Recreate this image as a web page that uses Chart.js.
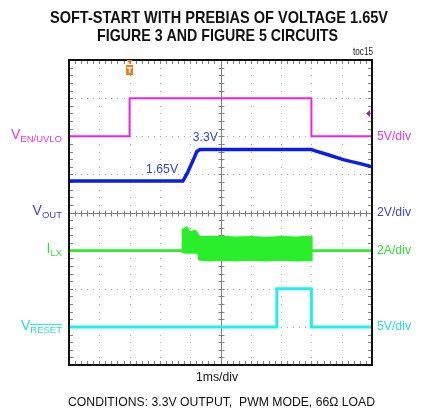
<!DOCTYPE html>
<html><head><meta charset="utf-8">
<script src="https://cdn.jsdelivr.net/npm/chart.js@4"></script>
<style>html,body{margin:0;padding:0;background:#fff;}#wrap{width:422px;height:412px;position:relative}</style>
</head><body><div id="wrap"><canvas id="c" width="422" height="412"></canvas></div>
<script>
// ---- data (time in ms, 1 ms/div) ----
const enTime   = [0, 2, 2, 8, 8, 10];
const enVolts  = [0, 0, 5, 5, 0, 0];
const voutTime  = [0, 3.76, 3.9, 4.1, 4.22, 4.32, 8, 8.1, 8.55, 9.08, 9.64, 10];
const voutVolts = [1.65, 1.65, 2.05, 2.75, 3.2, 3.3, 3.3, 3.25, 3.03, 2.76, 2.55, 2.4];
const ilxTime  = [0, 3.76, 3.76, 3.88, 3.99, 4.16, 4.27, 4.3, 4.6, 5.0, 5.5, 6.0, 6.5, 7.0, 7.5, 7.9, 8.0, 8.0, 10];
const ilxUpper = [0, 0, 1.1, 1.2, 0.95, 1.03, 0.78, 0.72, 0.7, 0.72, 0.68, 0.7, 0.66, 0.7, 0.68, 0.72, 0.7, 0, 0];
const ilxLower = [0, 0, -0.08, -0.1, -0.1, -0.08, -0.1, -0.46, -0.5, -0.46, -0.5, -0.47, -0.5, -0.46, -0.5, -0.48, -0.5, 0, 0];
const resetTime  = [0, 6.86, 6.86, 8, 8, 10];
const resetVolts = [0, 0, 5, 5, 0, 0];
const annot1 = "1.65V", annot2 = "3.3V";
// channel settings: ground position (div from bottom) and units per division
const chEN    = {ground: 6, perDiv: 5, color: '#ee22ee'};
const chVOUT  = {ground: 4, perDiv: 2, color: '#0a1ee6'};
const chILX   = {ground: 3, perDiv: 2, color: '#2aee2a'};
const chRESET = {ground: 1, perDiv: 5, color: '#22eeee'};

function pts(ch, t, v){ return t.map((x,i)=>({x:x, y: ch.ground + v[i]/ch.perDiv})); }

const gridPlugin = {
  id:'scopeGrid',
  beforeDatasetsDraw(chart){
    const {ctx, chartArea:a, scales:{x,y}} = chart;
    ctx.save();
    ctx.fillStyle = '#a8a8a8';
    for(let i=1;i<10;i++){ if(i===5) continue;
      const px = Math.round(x.getPixelForValue(i));
      for(let j=0;j<=40;j++){ const py = y.getPixelForValue(j*0.2); ctx.fillRect(px, Math.round(py), 1, 1); }
    }
    for(let j=1;j<8;j++){ if(j===4) continue;
      const py = Math.round(y.getPixelForValue(j));
      for(let i=0;i<=50;i++){ const px = x.getPixelForValue(i*0.2); ctx.fillRect(Math.round(px), py, 1, 1); }
    }
    ctx.strokeStyle = '#808080'; ctx.lineWidth = 1;
    const cx = Math.round(x.getPixelForValue(5))+0.5, cy = Math.round(y.getPixelForValue(4))+0.5;
    ctx.beginPath(); ctx.moveTo(a.left, cy); ctx.lineTo(a.right, cy); ctx.moveTo(cx, a.top); ctx.lineTo(cx, a.bottom); ctx.stroke();
    ctx.beginPath();
    for(let i=1;i<50;i++){ const px = Math.round(x.getPixelForValue(i*0.2))+0.5;
      ctx.moveTo(px, cy-3); ctx.lineTo(px, cy+3);
      ctx.moveTo(px, a.top); ctx.lineTo(px, a.top+4);
      ctx.moveTo(px, a.bottom); ctx.lineTo(px, a.bottom-4); }
    for(let j=1;j<40;j++){ const py = Math.round(y.getPixelForValue(j*0.2))+0.5;
      ctx.moveTo(cx-3, py); ctx.lineTo(cx+3, py);
      ctx.moveTo(a.left, py); ctx.lineTo(a.left+4, py);
      ctx.moveTo(a.right, py); ctx.lineTo(a.right-4, py); }
    ctx.stroke();
    ctx.restore();
  },
  afterDraw(chart){
    const {ctx, chartArea:a, scales:{x,y}} = chart;
    ctx.save();
    ctx.strokeStyle = '#111'; ctx.lineWidth = 2;
    ctx.strokeRect(a.left, a.top, a.right-a.left, a.bottom-a.top);
    const tx = x.getPixelForValue(2);
    ctx.fillStyle = '#f07a1a';
    ctx.beginPath(); ctx.moveTo(tx-3, a.top); ctx.lineTo(tx+3, a.top); ctx.lineTo(tx, a.top+4); ctx.closePath(); ctx.fill();
    ctx.fillRect(tx-3.5, a.top+5, 7, 10);
    ctx.fillStyle='#fff'; ctx.fillRect(tx-2.5, a.top+7, 5, 1.5); ctx.fillRect(tx-0.75, a.top+7, 1.5, 6);
    const ty = y.getPixelForValue(chEN.ground + 3/chEN.perDiv);
    ctx.fillStyle = '#a020a0';
    ctx.beginPath(); ctx.moveTo(a.right-2, ty-3.5); ctx.lineTo(a.right-2, ty+3.5); ctx.lineTo(a.right-6, ty); ctx.closePath(); ctx.fill();
    ctx.restore();

    const F = '"Liberation Sans", Arial, sans-serif';
    function txt(s, px, py, font, color, align, maxW){
      ctx.save(); ctx.font = font; ctx.fillStyle = color; ctx.textBaseline = 'middle';
      const w = ctx.measureText(s).width; const sx = (maxW && w > maxW) ? maxW / w : 1;
      ctx.translate(px, py); ctx.scale(sx, 1); ctx.textAlign = align; ctx.fillText(s, 0, 0); ctx.restore();
      return w*sx;
    }
    function subLabel(main, sub, right, py, color, overline){
      ctx.save(); ctx.font = '9.5px '+F; const sw = ctx.measureText(sub).width; ctx.restore();
      txt(sub, right - sw, py+4, '9.5px '+F, color, 'left');
      txt(main, right - sw, py, '14px '+F, color, 'right');
      if(overline){ ctx.save(); ctx.strokeStyle=color; ctx.lineWidth=1; ctx.beginPath(); ctx.moveTo(right-sw, py-1.5); ctx.lineTo(right, py-1.5); ctx.stroke(); ctx.restore(); }
    }
    txt('SOFT-START WITH PREBIAS OF VOLTAGE 1.65V', 219, 18, 'bold 17px '+F, '#111', 'center', 338);
    txt('FIGURE 3 AND FIGURE 5 CIRCUITS', 217.5, 36, 'bold 17px '+F, '#111', 'center', 241);
    txt('toc15', 373, 52, '10px '+F, '#222', 'right', 20);
    txt('1ms/div', 217, 378, '12.5px '+F, '#111', 'center', 42);
    txt('CONDITIONS: 3.3V OUTPUT,  PWM MODE, 66\u03A9 LOAD', 221.5, 402, '13px '+F, '#111', 'center', 307);
    const gy = ch => y.getPixelForValue(ch.ground);
    subLabel('V', 'EN/UVLO', 62, gy(chEN)-1, '#ee33ee', false);
    subLabel('V', 'OUT', 62, gy(chVOUT)-1, '#4444bb', false);
    subLabel('I', 'LX', 62, gy(chILX)-1, '#33dd33', false);
    subLabel('V', 'RESET', 62, gy(chRESET)-1, '#22dddd', true);
    txt('5V/div', 377, gy(chEN), '13px '+F, '#ee33ee', 'left', 34);
    txt('2V/div', 377, gy(chVOUT), '13px '+F, '#4444bb', 'left', 34);
    txt('2A/div', 377, gy(chILX), '13px '+F, '#33dd33', 'left', 34);
    txt('5V/div', 377, gy(chRESET), '13px '+F, '#22dddd', 'left', 34);
    txt(annot1, x.getPixelForValue(3.6), y.getPixelForValue(chVOUT.ground + 1.65/chVOUT.perDiv)-12, '13px '+F, '#3344cc', 'right', 32);
    txt(annot2, x.getPixelForValue(4.5), y.getPixelForValue(chVOUT.ground + 3.3/chVOUT.perDiv)-12, '13px '+F, '#3344cc', 'center', 25);
  }
};

const line = (data, color, w) => ({data, borderColor: color, backgroundColor: color, borderWidth: w, pointRadius: 0, tension: 0, fill: false});
new Chart(document.getElementById('c'), {
  type: 'line',
  data: { datasets: [
    line(pts(chEN, enTime, enVolts), chEN.color, 2),
    line(pts(chRESET, resetTime, resetVolts), chRESET.color, 3),
    Object.assign(line(pts(chILX, ilxTime, ilxUpper), chILX.color, 2.5), {fill: '+1'}),
    line(pts(chILX, ilxTime, ilxLower), chILX.color, 2.5),
    line(pts(chVOUT, voutTime, voutVolts), chVOUT.color, 3.5),
  ]},
  options: {
    responsive: false, animation: false, devicePixelRatio: 1,
    layout: {padding: {left: 69, right: 50, top: 60, bottom: 47}},
    plugins: {legend: {display: false}, tooltip: {enabled: false}, title: {display: false}},
    scales: {
      x: {type: 'linear', min: 0, max: 10, display: false},
      y: {type: 'linear', min: 0, max: 8, display: false}
    }
  },
  plugins: [gridPlugin]
});
</script></body></html>
